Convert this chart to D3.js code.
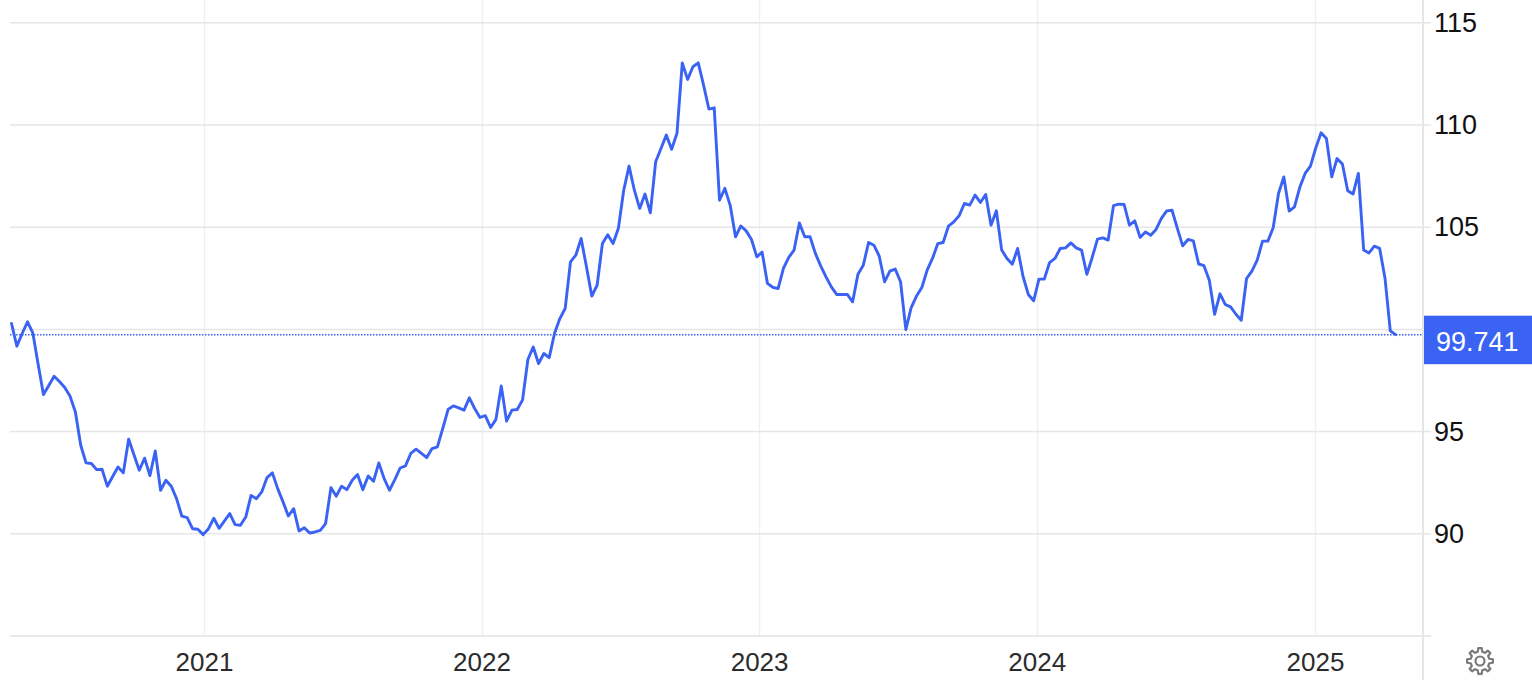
<!DOCTYPE html>
<html>
<head>
<meta charset="utf-8">
<script src="https://cdn.jsdelivr.net/npm/d3@7"></script>
<style>
  html, body { margin: 0; padding: 0; background: #fff; }
  svg { display: block; }
  text { font-family: "Liberation Sans", Arial, Helvetica, sans-serif; }
</style>
</head>
<body>
<svg id="chart" width="1532" height="680"></svg>
<script>
// ---------- data ----------
// weekly observations (Thursdays) from 2020-04-23 to 2025-04-17
const firstWeek = "2020-04-23";
const lastWeekExclusive = "2025-04-18";
const values = [
  100.29, 99.18, 99.80, 100.37, 99.83, 98.30, 96.81, 97.26, 97.71, 97.45,   // 0-9
  97.16, 96.73, 95.96, 94.33, 93.47, 93.44, 93.14, 93.16, 92.33, 92.80,     // 10-19
  93.27, 92.98, 94.63, 93.87, 93.11, 93.70, 92.85, 94.05, 92.13, 92.62,     // 20-29
  92.33, 91.72, 90.86, 90.79, 90.25, 90.22, 89.96, 90.25, 90.76, 90.27,     // 30-39
  90.63, 90.99, 90.45, 90.42, 90.82, 91.88, 91.72, 92.05, 92.75, 92.98,     // 40-49
  92.21, 91.56, 90.87, 91.23, 90.14, 90.30, 90.04, 90.09, 90.17, 90.50,     // 50-59
  92.26, 91.84, 92.33, 92.16, 92.62, 92.90, 92.16, 92.83, 92.57, 93.47,     // 60-69
  92.70, 92.13, 92.65, 93.22, 93.32, 93.93, 94.14, 93.93, 93.73, 94.17,     // 70-79
  94.25, 95.15, 96.08, 96.26, 96.16, 96.05, 96.65, 96.13, 95.69, 95.78,     // 80-89
  95.20, 95.60, 97.23, 95.51, 96.05, 96.08, 96.55, 98.53, 99.14, 98.33,     // 90-99
  98.82, 98.62, 99.80, 100.53, 101.02, 103.30, 103.63, 104.45, 103.06, 101.63, // 100-109
  102.16, 104.20, 104.63, 104.20, 104.95, 106.81, 107.99, 106.81, 105.92, 106.62, // 110-119
  105.70, 108.20, 108.85, 109.51, 108.81, 109.59, 113.04, 112.23, 112.85, 113.04, // 120-129
  111.95, 110.78, 110.84, 106.32, 106.90, 106.07, 104.53, 105.06, 104.82, 104.40, // 130-139
  103.55, 103.78, 102.25, 102.06, 102.00, 102.98, 103.52, 103.88, 105.21, 104.53, // 140-149
  104.53, 103.72, 103.11, 102.57, 102.08, 101.71, 101.71, 101.71, 101.35, 102.70, // 150-159
  103.14, 104.25, 104.12, 103.58, 102.33, 102.85, 102.95, 102.33, 99.99, 101.07,  // 160-169
  101.63, 102.05, 102.90, 103.47, 104.20, 104.25, 105.05, 105.26, 105.56, 106.16, // 170-179
  106.08, 106.57, 106.21, 106.60, 105.10, 105.80, 103.88, 103.47, 103.19, 103.96, // 180-189
  102.60, 101.71, 101.40, 102.46, 102.46, 103.27, 103.47, 103.96, 103.99, 104.23, // 190-199
  103.99, 103.88, 102.70, 103.52, 104.42, 104.48, 104.37, 106.05, 106.13, 106.11, // 200-209
  105.10, 105.31, 104.50, 104.77, 104.61, 104.89, 105.43, 105.80, 105.83, 104.94, // 210-219
  104.09, 104.40, 104.33, 103.20, 103.12, 102.41, 100.74, 101.74, 101.22, 101.10, // 220-229
  100.74, 100.45, 102.49, 102.85, 103.39, 104.32, 104.32, 104.97, 106.65, 107.46, // 230-239
  105.79, 106.00, 106.95, 107.63, 107.99, 108.88, 109.62, 109.34, 107.46, 108.36, // 240-249
  108.09, 106.78, 106.62, 107.63, 103.88, 103.74, 104.07, 103.96, 102.52, 99.93,  // 250-259
  99.741                                                                         // 260
];
const lastValueLabel = "99.741";
const yTicks = [85, 90, 95, 100, 105, 110, 115];
const xTickLabels = ["2021", "2022", "2023", "2024", "2025"];

// ---------- layout ----------
const W = 1532, H = 680;
const plotLeft = 10, plotRight = 1423, plotTop = 22.8, plotBottom = 636;
const lineColor = "#3a62f3";

const dates = d3.utcThursday.range(new Date(firstWeek), new Date(lastWeekExclusive));
const series = values.map((v, i) => ({ date: dates[i], value: v }));

const x = d3.scaleUtc()
  .domain([new Date("2020-04-21"), new Date("2025-05-23")])
  .range([plotLeft, plotRight]);
const y = d3.scaleLinear().domain([85, 115]).range([plotBottom, plotTop]);

const svg = d3.select("#chart");
svg.append("rect").attr("width", W).attr("height", H).attr("fill", "#fff");

// vertical year gridlines
const yearDates = xTickLabels.map(s => new Date(s + "-01-01"));
svg.append("g").selectAll("line").data(yearDates).join("line")
  .attr("x1", d => Math.round(x(d)) + 0.5).attr("x2", d => Math.round(x(d)) + 0.5)
  .attr("y1", 0).attr("y2", plotBottom)
  .attr("stroke", "#edf1f6").attr("stroke-width", 1.5);

// horizontal gridlines
svg.append("g").selectAll("line").data(yTicks.filter(t => t > 85)).join("line")
  .attr("x1", plotLeft).attr("x2", plotRight + 8)
  .attr("y1", d => y(d)).attr("y2", d => y(d))
  .attr("stroke", "#e6e6e6").attr("stroke-width", 1.5);

// bottom axis line
svg.append("line")
  .attr("x1", plotLeft).attr("x2", plotRight + 8)
  .attr("y1", y(85)).attr("y2", y(85))
  .attr("stroke", "#e2e2e2").attr("stroke-width", 1.5);

// right axis line
svg.append("line")
  .attr("x1", plotRight).attr("x2", plotRight)
  .attr("y1", 0).attr("y2", H)
  .attr("stroke", "#e6e6e6").attr("stroke-width", 2);

// x axis labels
const xAxis = d3.axisBottom(x).tickValues(yearDates).tickFormat((d, i) => xTickLabels[i]).tickSize(0).tickPadding(0);
const gx = svg.append("g").attr("transform", `translate(0,${plotBottom})`).call(xAxis);
gx.select(".domain").remove();
gx.selectAll("text")
  .attr("y", 35).attr("dy", 0)
  .attr("font-size", 26).attr("fill", "#2b2b2b")
  .style("font-family", "'Liberation Sans', Arial, sans-serif");

// y axis labels (100 is covered by the current-value tag)
const lastVal = values[values.length - 1];
const yAxis = d3.axisRight(y).tickValues(yTicks.filter(t => t > 85 && t !== 100)).tickFormat(d3.format("d")).tickSize(0).tickPadding(0);
const gy = svg.append("g").attr("transform", `translate(${plotRight + 11},0)`).call(yAxis);
gy.select(".domain").remove();
gy.selectAll("text")
  .attr("x", 0).attr("dy", 8.5)
  .attr("font-size", 27).attr("fill", "#111")
  .style("font-family", "'Liberation Sans', Arial, sans-serif");

// dotted last-value line
svg.append("line")
  .attr("x1", plotLeft).attr("x2", plotRight)
  .attr("y1", y(lastVal)).attr("y2", y(lastVal))
  .attr("stroke", lineColor).attr("stroke-width", 1.5)
  .attr("stroke-dasharray", "1.5,1.5");

// main line
svg.append("path")
  .datum(series)
  .attr("fill", "none")
  .attr("stroke", lineColor)
  .attr("stroke-width", 2.9)
  .attr("stroke-linejoin", "round")
  .attr("stroke-linecap", "round")
  .attr("d", d3.line().x(d => x(d.date)).y(d => y(d.value)));

// current value tag
const tagY = y(lastVal);
svg.append("rect")
  .attr("x", plotRight + 1).attr("y", tagY - 19)
  .attr("width", W - plotRight - 1).attr("height", 48.5)
  .attr("fill", lineColor);
svg.append("text")
  .attr("x", plotRight + 13).attr("y", tagY + 16)
  .attr("font-size", 27).attr("fill", "#fff")
  .text(lastValueLabel);

// settings gear icon
const gcx = 1480, gcy = 661, teeth = 8;
const pts = [];
for (let k = 0; k < teeth; k++) {
  const a0 = (k / teeth) * 2 * Math.PI;
  const step = 2 * Math.PI / teeth;
  pts.push([a0 - step * 0.30, 9.6]);
  pts.push([a0 - step * 0.17, 13]);
  pts.push([a0 + step * 0.17, 13]);
  pts.push([a0 + step * 0.30, 9.6]);
}
const gear = d3.lineRadial().angle(d => d[0]).radius(d => d[1]).curve(d3.curveLinearClosed);
svg.append("path")
  .attr("transform", `translate(${gcx},${gcy})`)
  .attr("d", gear(pts))
  .attr("fill", "none").attr("stroke", "#7a7a7a").attr("stroke-width", 2.2)
  .attr("stroke-linejoin", "round");
svg.append("circle")
  .attr("cx", gcx).attr("cy", gcy).attr("r", 4.5)
  .attr("fill", "none").attr("stroke", "#7a7a7a").attr("stroke-width", 2.2);
</script>
</body>
</html>
